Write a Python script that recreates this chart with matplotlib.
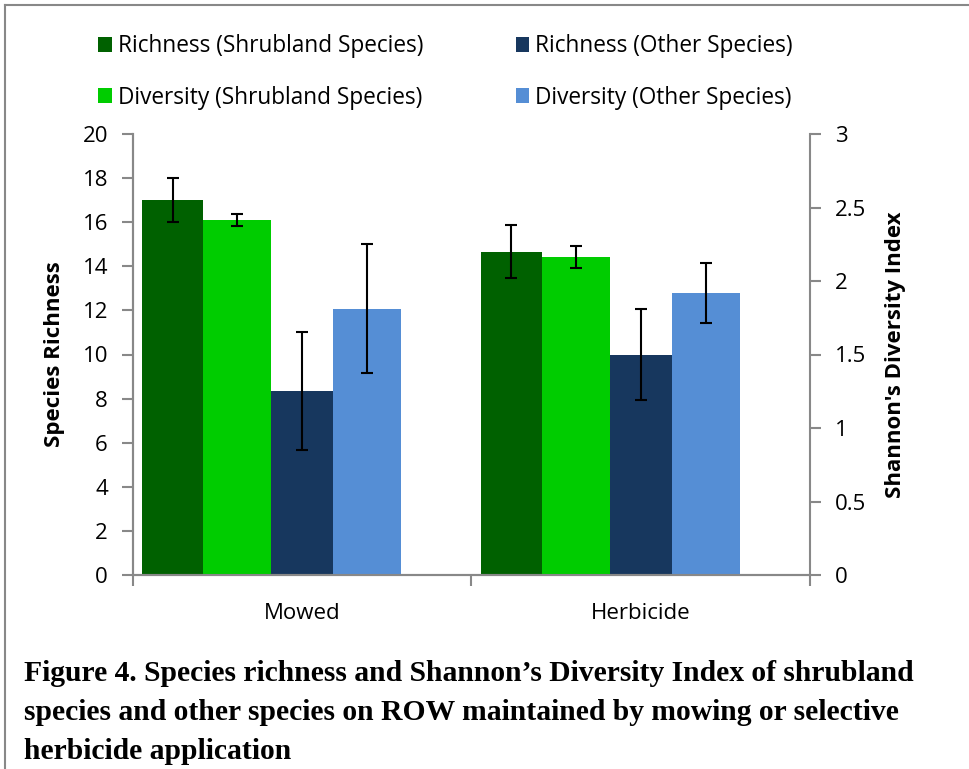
import matplotlib
matplotlib.use('Agg')
import matplotlib.pyplot as plt
from matplotlib.lines import Line2D

treatments = ['Mowed', 'Herbicide']

# species richness (left axis)
richness_shrub = [17.0, 14.66]
richness_shrub_err = [1.0, 1.21]
richness_other = [8.33, 10.0]
richness_other_err = [2.68, 2.08]

# Shannon's diversity index (right axis)
diversity_shrub = [2.415, 2.163]
diversity_shrub_err = [0.038, 0.072]
diversity_other = [1.812, 1.916]
diversity_other_err = [0.44, 0.204]

c_rich_shrub = '#006100'
c_div_shrub = '#00CC00'
c_rich_other = '#17375E'
c_div_other = '#558ED5'
gray = '#888888'

plt.rcParams['font.family'] = ['Open Sans', 'DejaVu Sans']

fig = plt.figure(figsize=(9.7, 7.69), dpi=100)
ax = fig.add_axes([133 / 970, 1 - 575 / 769, 677 / 970, 441 / 769])
ax2 = ax.twinx()

x = range(len(treatments))
err_kw = dict(ecolor='black', elinewidth=1.5, capsize=4.5, capthick=1.5)

b1 = ax.bar([i - 0.472 for i in x], richness_shrub, width=0.18, align='edge',
            color=c_rich_shrub, yerr=richness_shrub_err, error_kw=err_kw,
            label='Richness (Shrubland Species)')
b3 = ax.bar([i - 0.091 for i in x], richness_other, width=0.182, align='edge',
            color=c_rich_other, yerr=richness_other_err, error_kw=err_kw,
            label='Richness (Other Species)')
b2 = ax2.bar([i - 0.292 for i in x], diversity_shrub, width=0.201, align='edge',
             color=c_div_shrub, yerr=diversity_shrub_err, error_kw=err_kw,
             label='Diversity (Shrubland Species)')
b4 = ax2.bar([i + 0.091 for i in x], diversity_other, width=0.201, align='edge',
             color=c_div_other, yerr=diversity_other_err, error_kw=err_kw,
             label='Diversity (Other Species)')

ax.set_xlim(-0.5, 1.5)
ax.set_ylim(0, 20)
ax2.set_ylim(0, 3)
ax.set_yticks(range(0, 21, 2))
ax2.set_yticks([0, 0.5, 1, 1.5, 2, 2.5, 3])
ax2.set_yticklabels(['0', '0.5', '1', '1.5', '2', '2.5', '3'])

ax.set_xticks([-0.5, 0.5, 1.5])
ax.set_xticklabels([])
ax.set_xticks(list(x), minor=True)
ax.set_xticklabels(treatments, minor=True)
ax.tick_params(axis='x', which='minor', length=0, pad=20, labelsize=16)
ax.tick_params(axis='x', which='major', length=8, width=1.5, color=gray, direction='out')
ax.tick_params(axis='y', length=8, width=1.5, color=gray, labelsize=16, pad=10)
ax2.tick_params(axis='y', length=8, width=1.5, color=gray, labelsize=16, pad=10)

for a in (ax, ax2):
    a.spines['top'].set_visible(False)
    for s in ('left', 'right', 'bottom'):
        a.spines[s].set_color(gray)
        a.spines[s].set_linewidth(1.5)
ax.spines['right'].set_visible(False)

ax.set_ylabel('Species Richness', fontsize=16, fontweight='bold')
ax.yaxis.set_label_coords(-0.1, 0.5)
ax2.set_ylabel("Shannon's Diversity Index", fontsize=16, fontweight='bold')
ax2.yaxis.set_label_coords(1.111, 0.5)

fig.legend(handles=[b1, b2, b3, b4], loc='upper left', bbox_to_anchor=(78 / 970, 1 - 14 / 769),
           ncol=2, frameon=False, fontsize=16.3, handlelength=0.6, handleheight=0.6,
           handletextpad=0.25, columnspacing=4.1, labelspacing=1.2)

fig.text(24 / 970, 1 - 759 / 769,
         "Figure 4. Species richness and Shannon\u2019s Diversity Index of shrubland\n"
         "species and other species on ROW maintained by mowing or selective\n"
         "herbicide application",
         family='Liberation Serif', fontweight='bold', fontsize=21.3,
         va='baseline', ha='left', linespacing=1.58)

# frame lines along top and left edge
fig.add_artist(Line2D([5 / 970, 5 / 970], [0, 1 - 5 / 769], color=gray, lw=1.5, transform=fig.transFigure))
fig.add_artist(Line2D([5 / 970, 1], [1 - 5 / 769, 1 - 5 / 769], color=gray, lw=1.5, transform=fig.transFigure))

fig.savefig('out.png', dpi=100)
